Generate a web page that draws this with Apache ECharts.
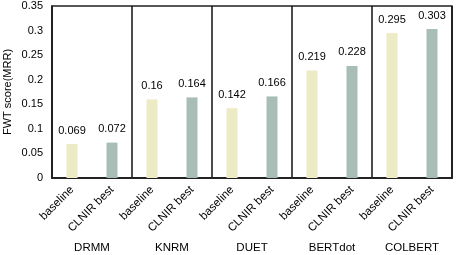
<!DOCTYPE html>
<html><head><meta charset="utf-8">
<script src="https://cdn.jsdelivr.net/npm/echarts@6/dist/echarts.min.js"></script>
<style>html,body{margin:0;padding:0;background:#fff}#c{width:457px;height:255px}</style>
</head><body><div id="c"></div>
<script>
const groups = ['DRMM', 'KNRM', 'DUET', 'BERTdot', 'COLBERT'];
const methods = ['baseline', 'CLNIR best'];
const baselineVals = [0.069, 0.16, 0.142, 0.219, 0.295];
const clnirVals = [0.072, 0.164, 0.166, 0.228, 0.303];
const yTicks = [0, 0.05, 0.1, 0.15, 0.2, 0.25, 0.3, 0.35];

const colors = ['#EDEAC6', '#A8BDB4'];
const cats = [];
const data = [];
groups.forEach((g, i) => {
  cats.push(methods[0]); data.push({value: baselineVals[i], itemStyle: {color: colors[0]}});
  cats.push(methods[1]); data.push({value: clnirVals[i], itemStyle: {color: colors[1]}});
});
const font = 'Liberation Sans, Arial, sans-serif';
const chart = echarts.init(document.getElementById('c'), null, {renderer: 'canvas'});
chart.setOption({
  animation: false,
  grid: {left: 52, right: 5, top: 6, bottom: 77, show: true, borderColor: '#222', borderWidth: 1.5,
         containLabel: false, outerBoundsMode: 'none'},
  xAxis: [{
    type: 'category', data: cats,
    axisLine: {show: true, lineStyle: {color: '#222', width: 2}},
    axisTick: {show: false},
    axisLabel: {rotate: 45, color: '#000', fontSize: 11.5, fontFamily: font, margin: 10, interval: 0}
  }, {
    type: 'category', data: groups, position: 'bottom', offset: 0,
    axisLine: {show: false}, axisTick: {show: false},
    axisLabel: {color: '#000', fontSize: 11.5, fontFamily: font, margin: 64},
    splitLine: {show: true, lineStyle: {color: '#111', width: 1.5}}
  }],
  yAxis: {
    type: 'value', min: yTicks[0], max: yTicks[yTicks.length - 1], interval: 0.05,
    name: 'FWT score(MRR)', nameLocation: 'middle', nameGap: 39, nameMoveOverlap: false,
    nameTextStyle: {color: '#000', fontSize: 11, fontFamily: font},
    axisLine: {show: true, lineStyle: {color: '#222', width: 1.5}},
    axisTick: {show: false},
    splitLine: {show: false},
    axisLabel: {color: '#000', fontSize: 11, fontFamily: font, margin: 9}
  },
  series: [{
    type: 'bar', data: data, barWidth: 11,
    label: {show: true, position: 'top', distance: 8, color: '#000', fontSize: 11, fontFamily: font}
  }]
});
</script></body></html>
